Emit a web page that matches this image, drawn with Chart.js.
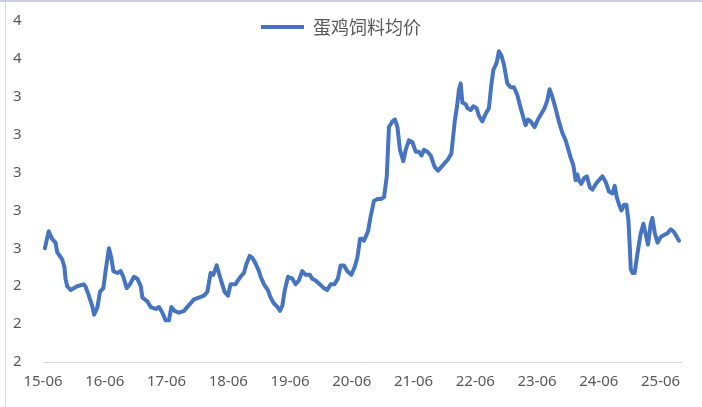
<!DOCTYPE html>
<html lang="zh">
<head>
  <meta charset="UTF-8">
  <title>蛋鸡饲料均价</title>
  <style>
    html, body { margin: 0; padding: 0; background: #fff; }
    .chart-box { position: relative; width: 702px; height: 407px; box-sizing: border-box; border-top: 2px solid #cdcde6; }
    .chart-box::before { content: ''; position: absolute; left: 5px; top: 0; bottom: 0; width: 1px; background: #d8d8d8; }
    #feedChart { display: block; }
  </style>
  <script src="https://cdn.jsdelivr.net/npm/chart.js"></script>
</head>
<body>
  <div class="chart-box">
    <canvas id="feedChart" width="702" height="405"></canvas>
  </div>
  <script>
    // 周度数据（日期 / 元每公斤）
    const dates = [
      '2015-06-12','2015-07-05','2015-07-25','2015-08-14','2015-08-24','2015-09-23','2015-10-06','2015-10-12','2015-10-22','2015-11-11','2015-12-21',
      '2016-01-28','2016-02-07','2016-02-27','2016-03-20','2016-03-29','2016-04-18','2016-05-03','2016-05-23',
      '2016-06-05','2016-06-25','2016-07-09','2016-07-21','2016-08-14','2016-09-02','2016-09-18','2016-10-08','2016-10-27','2016-11-20','2016-12-10','2016-12-30',
      '2017-01-09','2017-02-07','2017-02-27','2017-03-29','2017-04-17','2017-05-07','2017-05-26',
      '2017-06-15','2017-06-29','2017-07-18','2017-08-13','2017-09-12','2017-10-11','2017-11-09','2017-12-09',
      '2018-01-08','2018-01-28','2018-02-16','2018-03-04','2018-03-24','2018-04-06','2018-04-26','2018-05-10','2018-05-30',
      '2018-06-14','2018-07-14','2018-07-27','2018-08-12','2018-09-01','2018-09-17','2018-10-05','2018-10-21','2018-11-09','2018-11-29','2018-12-09','2018-12-29',
      '2019-01-21','2019-02-06','2019-02-25','2019-03-19','2019-04-03','2019-04-17','2019-05-01','2019-05-20',
      '2019-06-14','2019-07-04','2019-07-23','2019-08-12','2019-09-01','2019-09-26','2019-10-10','2019-10-30','2019-11-24','2019-12-18',
      '2020-01-07','2020-01-27','2020-02-19','2020-03-10','2020-03-26','2020-04-14','2020-05-04','2020-05-28',
      '2020-06-17','2020-07-03','2020-07-19','2020-08-02','2020-08-11','2020-08-21','2020-09-04','2020-09-20','2020-10-09','2020-10-30','2020-11-18','2020-12-08','2020-12-24',
      '2021-01-06','2021-01-26','2021-02-11','2021-02-25','2021-03-12','2021-04-01','2021-04-15','2021-05-04','2021-05-25',
      '2021-06-13','2021-07-02','2021-07-18','2021-08-01','2021-08-21','2021-09-10','2021-10-03','2021-10-23','2021-11-12','2021-12-01','2021-12-21',
      '2022-01-10','2022-01-30','2022-02-14','2022-02-24','2022-03-06','2022-03-16','2022-04-05','2022-04-15','2022-05-04','2022-05-20',
      '2022-06-08','2022-06-22','2022-07-12','2022-08-01','2022-08-20','2022-09-03','2022-09-15','2022-10-05','2022-10-18','2022-11-01','2022-11-17','2022-12-07','2022-12-26',
      '2023-01-15','2023-02-04','2023-02-24','2023-03-15','2023-03-25','2023-04-08','2023-04-24','2023-05-17',
      '2023-06-06','2023-06-26','2023-07-15','2023-07-31','2023-08-14','2023-08-30','2023-09-18','2023-10-08','2023-10-28','2023-11-17','2023-11-30','2023-12-16',
      '2024-01-01','2024-01-15','2024-01-25','2024-02-03','2024-02-17','2024-03-05','2024-03-21','2024-04-09','2024-04-24','2024-05-13',
      '2024-06-01','2024-06-21','2024-07-11','2024-07-30','2024-08-20','2024-09-02','2024-09-14','2024-09-28','2024-10-12','2024-10-27','2024-11-10','2024-11-22','2024-11-30','2024-12-06','2024-12-16','2024-12-29',
      '2025-01-14','2025-02-03','2025-02-19','2025-03-05','2025-03-18','2025-04-03','2025-04-13','2025-04-27','2025-05-13',
      '2025-06-01','2025-06-21','2025-07-11','2025-07-30','2025-08-15','2025-08-29','2025-09-17'
    ];
    const prices = [
      2.60,2.69,2.65,2.63,2.58,2.54,2.50,2.44,2.40,2.38,2.40,
      2.41,2.40,2.35,2.29,2.25,2.29,2.37,2.39,
      2.48,2.60,2.55,2.48,2.47,2.48,2.45,2.39,2.41,2.45,2.44,2.40,
      2.34,2.32,2.29,2.28,2.29,2.26,2.22,
      2.22,2.29,2.27,2.26,2.27,2.30,2.33,2.34,
      2.35,2.37,2.47,2.46,2.51,2.47,2.41,2.37,2.35,
      2.41,2.41,2.43,2.45,2.47,2.52,2.56,2.55,2.52,2.48,2.45,2.41,
      2.38,2.34,2.31,2.29,2.27,2.30,2.38,2.45,
      2.44,2.41,2.43,2.48,2.46,2.46,2.44,2.43,2.41,2.39,
      2.38,2.41,2.41,2.44,2.51,2.51,2.48,2.46,
      2.50,2.55,2.65,2.65,2.64,2.66,2.69,2.77,2.85,2.86,2.86,2.87,2.98,
      3.24,3.27,3.28,3.24,3.12,3.06,3.12,3.17,3.16,
      3.11,3.11,3.09,3.12,3.11,3.09,3.03,3.01,3.03,3.05,3.07,
      3.10,3.27,3.36,3.44,3.47,3.37,3.36,3.34,3.33,3.35,
      3.34,3.30,3.27,3.31,3.34,3.46,3.54,3.58,3.64,3.62,3.57,3.47,3.45,
      3.45,3.41,3.34,3.28,3.25,3.28,3.27,3.24,
      3.28,3.31,3.34,3.38,3.44,3.40,3.34,3.27,3.21,3.17,3.13,3.08,
      3.04,2.96,2.99,2.96,2.94,2.97,2.98,2.92,2.91,2.94,
      2.96,2.98,2.95,2.90,2.89,2.93,2.87,2.83,2.80,2.83,2.83,2.75,2.61,2.49,2.47,2.47,
      2.57,2.68,2.73,2.67,2.62,2.73,2.76,2.68,2.63,
      2.66,2.67,2.68,2.70,2.69,2.67,2.64
    ];
    const seriesName = '蛋鸡饲料均价';
    const yTicks = [2.0, 2.2, 2.4, 2.6, 2.8, 3.0, 3.2, 3.4, 3.6, 3.8];
    const startYear = 2015;

    // x 轴按“距 2015-06 的年数”排布，每年 6 月一个刻度
    const base = Date.parse('2015-06-01');
    const yearMs = 365.25 * 86400000;
    const points = dates.map((d, i) => ({ x: (Date.parse(d) - base) / yearMs, y: prices[i] }));

    const blue = '#4674c1';
    const gray = '#595959';
    const tickFont = { family: '"Noto Sans", sans-serif', size: 15 };

    // 图例压在绘图区上方：布局时只占 19px，绘制时放开裁剪范围
    const legendOverlay = {
      id: 'legendOverlay',
      beforeLayout(chart) {
        const lg = chart.legend;
        if (!lg || lg._overlay) return;
        const fit = lg.fit;
        lg.fit = function () { fit.call(this); this.height = 19; };
        lg._overlay = true;
      },
      afterLayout(chart) {
        const lg = chart.legend;
        if (!lg) return;
        lg.top = 0;
        lg.height = 50;
        lg.bottom = 50;
        lg.left = 0;
        lg.right = 682;
        lg.width = 682;
      }
    };

    new Chart(document.getElementById('feedChart'), {
      type: 'line',
      data: {
        datasets: [{
          label: seriesName,
          data: points,
          borderColor: blue,
          backgroundColor: blue,
          borderWidth: 4,
          borderJoinStyle: 'round',
          borderCapStyle: 'round',
          pointRadius: 0,
          tension: 0
        }]
      },
      plugins: [legendOverlay],
      options: {
        responsive: false,
        animation: false,
        layout: { padding: { left: 13, right: 21, top: 0, bottom: 16 } },
        plugins: {
          legend: {
            position: 'top',
            labels: {
              padding: 16,
              boxWidth: 43,
              boxHeight: 4,
              color: gray,
              font: { family: '"Noto Sans CJK SC", sans-serif', size: 18 },
              generateLabels(chart) {
                return Chart.defaults.plugins.legend.labels.generateLabels(chart)
                  .map(item => Object.assign(item, { lineWidth: 0 }));
              }
            }
          },
          tooltip: { enabled: false }
        },
        scales: {
          x: {
            type: 'linear',
            min: 0,
            max: 10.33,
            grid: { display: false, drawTicks: false },
            border: { display: true, color: '#d9d9d9', width: 1 },
            afterFit: scale => { scale.height = 29; },
            ticks: {
              stepSize: 1,
              includeBounds: false,
              padding: 11,
              color: gray,
              font: tickFont,
              maxRotation: 0,
              autoSkip: false,
              callback: v => Number.isInteger(v) ? (startYear - 2000 + v) + '-06' : ''
            }
          },
          y: {
            min: yTicks[0],
            max: yTicks[yTicks.length - 1],
            grid: { display: false, drawTicks: false },
            border: { display: false },
            afterBuildTicks: scale => { scale.ticks = yTicks.map(v => ({ value: v })); },
            afterFit: scale => { scale.width = 30; },
            ticks: {
              padding: 0,
              crossAlign: 'far',
              color: gray,
              font: tickFont,
              callback: v => v.toFixed(0)
            }
          }
        }
      }
    });
  </script>
</body>
</html>
